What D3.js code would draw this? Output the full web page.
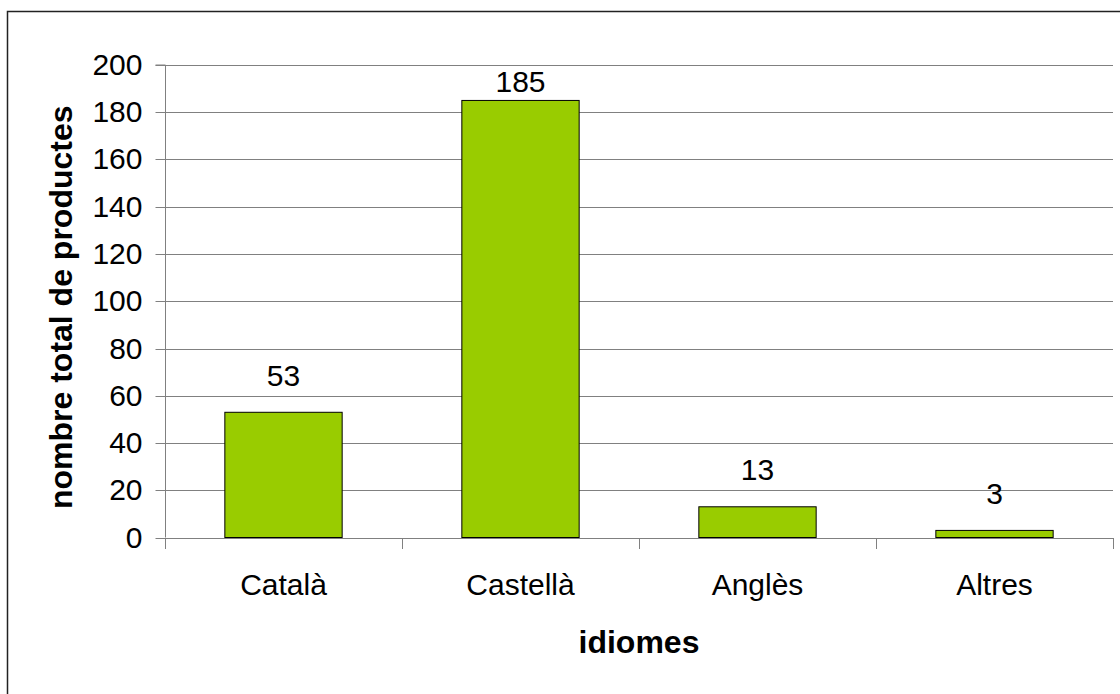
<!DOCTYPE html>
<html>
<head>
<meta charset="utf-8">
<script src="https://cdn.jsdelivr.net/npm/d3@7"></script>
<style>
  html, body { margin: 0; padding: 0; background: #fff; }
  svg { display: block; }
  text { font-family: "Liberation Sans", Arial, sans-serif; fill: #000; }
</style>
</head>
<body>
<svg id="chart" width="1120" height="694"></svg>
<script>
const categories = ["Català", "Castellà", "Anglès", "Altres"];
const values = [53, 185, 13, 3];
const yTicks = [0, 20, 40, 60, 80, 100, 120, 140, 160, 180, 200];
const yTitle = "nombre total de productes";
const xTitle = "idiomes";

const svg = d3.select("#chart");
const W = 1120, H = 694;
const plot = { left: 165, right: 1113, top: 65, bottom: 537.5 };

// outer frame (right/bottom edges lie outside the picture)
svg.append("rect")
  .attr("x", 7.5).attr("y", 11.5)
  .attr("width", W + 20).attr("height", H + 20)
  .attr("fill", "#fff").attr("stroke", "#222").attr("stroke-width", 1.5);

const x = d3.scaleBand().domain(categories).range([plot.left, plot.right]).paddingInner(0).paddingOuter(0);
const y = d3.scaleLinear().domain([0, 200]).range([plot.bottom, plot.top]);

// gridlines
svg.append("g").selectAll("line").data(yTicks.filter(d => d > 0)).join("line")
  .attr("x1", plot.left).attr("x2", plot.right)
  .attr("y1", d => Math.round(y(d)) + 0.5).attr("y2", d => Math.round(y(d)) + 0.5)
  .attr("stroke", "#808080").attr("stroke-width", 1);

// bars
const bw = x.bandwidth() * 0.495;
svg.append("g").selectAll("rect").data(values).join("rect")
  .attr("x", (d, i) => x(categories[i]) + (x.bandwidth() - bw) / 2)
  .attr("y", d => y(d))
  .attr("width", bw)
  .attr("height", d => y(0) - y(d))
  .attr("fill", "#99CC00").attr("stroke", "#000").attr("stroke-width", 1);

// y axis
const yAxis = d3.axisLeft(y).tickValues(yTicks).tickSize(10).tickPadding(13).tickFormat(d3.format("d"));
const gy = svg.append("g").attr("transform", `translate(${plot.left + 0.5},0)`).call(yAxis);
gy.select(".domain").attr("stroke", "#808080").attr("d", `M-10,${plot.top}H0V${plot.bottom}`);
gy.selectAll(".tick line").attr("stroke", "#808080");
gy.selectAll(".tick").attr("transform", d => `translate(0,${Math.round(y(d)) + 0.5})`);
gy.selectAll("text").style("font-size", "30px").attr("font-family", "Liberation Sans, Arial, sans-serif").attr("fill", "#000");

// x axis line + boundary ticks
const gx = svg.append("g");
gx.append("line").attr("x1", plot.left).attr("x2", plot.right)
  .attr("y1", Math.round(plot.bottom) + 0.5).attr("y2", Math.round(plot.bottom) + 0.5)
  .attr("stroke", "#808080");
const bounds = categories.map(c => x(c)).concat([x(categories[categories.length - 1]) + x.bandwidth()]);
gx.selectAll("line.b").data(bounds).join("line").attr("class", "b")
  .attr("x1", d => Math.round(d) + 0.5).attr("x2", d => Math.round(d) + 0.5)
  .attr("y1", Math.round(plot.bottom)).attr("y2", Math.round(plot.bottom) + 11)
  .attr("stroke", "#808080");
gx.selectAll("text").data(categories).join("text")
  .attr("x", d => x(d) + x.bandwidth() / 2)
  .attr("y", 595)
  .attr("text-anchor", "middle")
  .style("font-size", "30px")
  .text(d => d);

// value labels
svg.append("g").selectAll("text").data(values).join("text")
  .attr("x", (d, i) => x(categories[i]) + x.bandwidth() / 2)
  .attr("y", d => Math.max(y(d) - 26.5, plot.top + 27))
  .attr("text-anchor", "middle")
  .style("font-size", "30px")
  .text(d => d);

// axis titles
svg.append("text")
  .attr("transform", `translate(72,${(plot.top + plot.bottom) / 2 + 6}) rotate(-90)`)
  .attr("text-anchor", "middle")
  .style("font-size", "32px").style("font-weight", "bold")
  .text(yTitle);

svg.append("text")
  .attr("x", (plot.left + plot.right) / 2)
  .attr("y", 653)
  .attr("text-anchor", "middle")
  .style("font-size", "32px").style("font-weight", "bold")
  .text(xTitle);
</script>
</body>
</html>
